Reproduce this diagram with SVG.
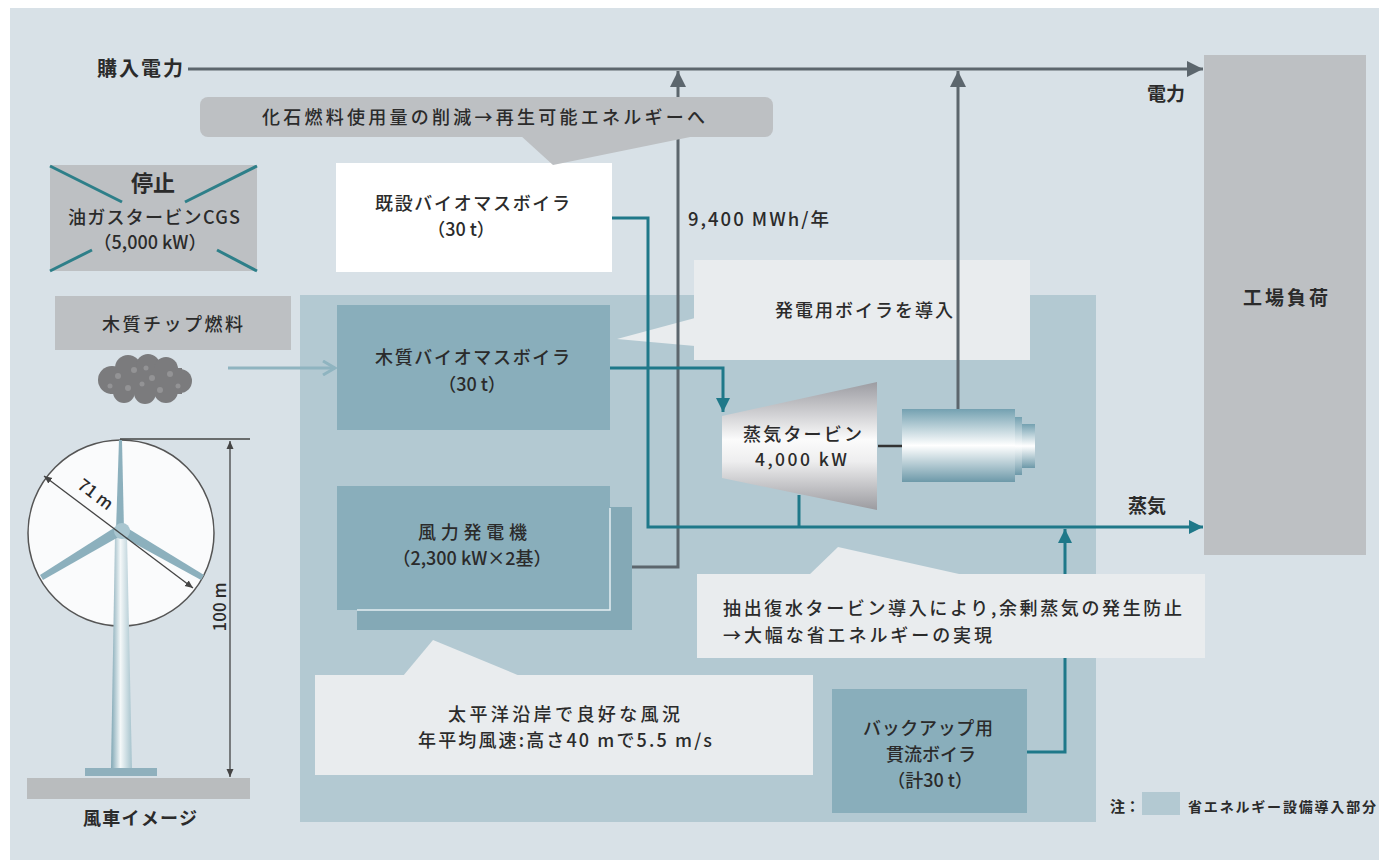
<svg xmlns="http://www.w3.org/2000/svg" width="1379" height="860" viewBox="0 0 1379 860">
  <defs>
    <style>
      .t { font-family: "Noto Sans CJK JP", "Noto Sans", sans-serif; font-size: 18px; font-weight: 500; fill: #2b2b2b; }
      .b { font-weight: bold; }
      .s { font-size: 17px; }
      .m { text-anchor: middle; }
      .teal { fill: none; stroke: #1f7889; stroke-width: 3; }
      .gline { fill: none; stroke: #5c666d; stroke-width: 3; }
      .dark { fill: #89aebb; }
      .gray { fill: #bdc0c3; }
      .light { fill: #e9ecee; }
      .xline { stroke: #2e7f89; stroke-width: 3; }
      .blade { fill: #8cb0bd; }
      .dim { stroke: #444; stroke-width: 1.3; fill: none; }
    </style>
    <marker id="arrTeal" markerUnits="userSpaceOnUse" markerWidth="14" markerHeight="14" refX="14" refY="7" orient="auto">
      <path d="M0,0 L14,7 L0,14 z" fill="#1f7889"/>
    </marker>
    <marker id="arrGray" markerUnits="userSpaceOnUse" markerWidth="16" markerHeight="16" refX="16" refY="8" orient="auto">
      <path d="M0,0 L16,8 L0,16 z" fill="#5c666d"/>
    </marker>
    <marker id="arrOpen" markerUnits="userSpaceOnUse" markerWidth="16" markerHeight="16" refX="14" refY="8" orient="auto">
      <path d="M2,1 L14,8 L2,15" fill="none" stroke="#8fb4c0" stroke-width="3"/>
    </marker>
    <marker id="arrDim" markerUnits="userSpaceOnUse" markerWidth="8" markerHeight="8" refX="8" refY="4" orient="auto-start-reverse">
      <path d="M0,0.5 L8,4 L0,7.5 z" fill="#444"/>
    </marker>
    <linearGradient id="coneGrad" x1="0" y1="0" x2="0" y2="1">
      <stop offset="0" stop-color="#9c9ca2"/>
      <stop offset="0.45" stop-color="#fbfbfb"/>
      <stop offset="0.62" stop-color="#eeeeef"/>
      <stop offset="1" stop-color="#9b9ba0"/>
    </linearGradient>
    <linearGradient id="genGrad" x1="0" y1="0" x2="0" y2="1">
      <stop offset="0" stop-color="#74a1b1"/>
      <stop offset="0.5" stop-color="#ffffff"/>
      <stop offset="1" stop-color="#6d99a9"/>
    </linearGradient>
    <linearGradient id="towerGrad" x1="0" y1="0" x2="1" y2="0">
      <stop offset="0" stop-color="#7fa6b4"/>
      <stop offset="0.45" stop-color="#f4f8f9"/>
      <stop offset="1" stop-color="#a6c3cd"/>
    </linearGradient>
  </defs>

  <!-- page background -->
  <rect x="0" y="0" width="1379" height="860" fill="#ffffff"/>
  <rect x="10" y="8" width="1369" height="852" fill="#d8e1e7"/>

  <!-- energy-saving equipment area -->
  <rect id="saving-area" x="300" y="295" width="796" height="527" fill="#b3c9d2"/>

  <!-- factory load -->
  <g id="factory">
    <rect x="1204" y="55" width="162" height="500" class="gray"/>
    <text x="1243" y="305" class="t b" style="font-size:19px" textLength="85">工場負荷</text>
  </g>

  <!-- stopped oil/gas turbine CGS -->
  <g id="cgs-stopped">
    <rect x="50" y="165" width="207" height="106" class="gray"/>
    <line x1="50" y1="166" x2="122" y2="202" class="xline"/>
    <line x1="185" y1="202" x2="257" y2="166" class="xline"/>
    <line x1="50" y1="271" x2="92" y2="250" class="xline"/>
    <line x1="217" y1="250" x2="257" y2="271" class="xline"/>
    <text x="153" y="191" class="t b m" style="font-size:22px">停止</text>
    <text x="68" y="224" class="t" textLength="172">油ガスタービンCGS</text>
    <text x="150" y="249" class="t m">（5,000 kW）</text>
  </g>

  <!-- existing biomass boiler -->
  <g id="existing-boiler">
    <rect x="336" y="163" width="276" height="109" fill="#ffffff"/>
    <text x="375" y="210" class="t" textLength="195">既設バイオマスボイラ</text>
    <text x="461" y="236" class="t m">（30 t）</text>
  </g>

  <!-- wood chip fuel -->
  <g id="wood-chip">
    <rect x="55" y="296" width="236" height="54" class="gray"/>
    <text x="102" y="331" class="t" textLength="141">木質チップ燃料</text>
    <g fill="#7b7b7d">
      <circle cx="112" cy="380" r="14"/>
      <circle cx="128" cy="368" r="13"/>
      <circle cx="148" cy="366" r="12"/>
      <circle cx="166" cy="369" r="12"/>
      <circle cx="180" cy="381" r="12"/>
      <circle cx="166" cy="391" r="12"/>
      <circle cx="145" cy="393" r="11"/>
      <circle cx="124" cy="392" r="11"/>
      <rect x="110" y="368" width="72" height="26"/>
    </g>
    <g fill="#939395">
      <circle cx="118" cy="376" r="3"/><circle cx="134" cy="370" r="3"/>
      <circle cx="152" cy="378" r="3"/><circle cx="170" cy="374" r="3"/>
      <circle cx="128" cy="388" r="3"/><circle cx="160" cy="390" r="3"/>
      <circle cx="142" cy="384" r="2.5"/><circle cx="178" cy="386" r="2.5"/>
      <circle cx="110" cy="386" r="2.5"/><circle cx="146" cy="368" r="2.5"/>
    </g>
  </g>

  <!-- woody biomass boiler -->
  <g id="wood-boiler">
    <rect x="337" y="305" width="273" height="125" class="dark"/>
    <text x="375" y="364" class="t" textLength="195">木質バイオマスボイラ</text>
    <text x="472" y="391" class="t m">（30 t）</text>
  </g>

  <!-- wind generators (2 units) -->
  <g id="wind-generator">
    <rect x="357" y="507" width="275" height="123" fill="#84a9b6"/>
    <rect x="337" y="486" width="273" height="124" class="dark"/>
    <path d="M610,508 V610 H357" fill="none" stroke="#e4eef2" stroke-width="1.5"/>
    <text x="418" y="539" class="t" textLength="109">風力発電機</text>
    <text x="472" y="565" class="t m">（2,300 kW×2基）</text>
  </g>

  <!-- backup once-through boiler -->
  <g id="backup-boiler">
    <rect x="832" y="689" width="195" height="124" class="dark"/>
    <text x="863" y="735" class="t" textLength="130">バックアップ用</text>
    <text x="931" y="761" class="t m">貫流ボイラ</text>
    <text x="930" y="787" class="t m">（計30 t）</text>
  </g>

  <!-- callout: generation boiler introduced -->
  <g id="note-boiler">
    <polygon points="695,318 617,339 695,346" class="light"/>
    <rect x="694" y="260" width="336" height="100" class="light"/>
    <text x="775" y="317" class="t" textLength="178">発電用ボイラを導入</text>
  </g>

  <!-- connectors -->
  <g id="connectors">
    <!-- purchased power bus -->
    <line x1="188" y1="69" x2="1203" y2="69" class="gline" marker-end="url(#arrGray)"/>
    <!-- wind power to bus -->
    <path d="M632,567 H678 V71" class="gline" stroke-width="2.5" marker-end="url(#arrGray)"/>
    <!-- generator power to bus -->
    <path d="M958,409 V71" class="gline" stroke-width="2.5" marker-end="url(#arrGray)"/>
    <!-- wood chips into boiler -->
    <line x1="228" y1="368" x2="335" y2="368" stroke="#8fb4c0" stroke-width="3" marker-end="url(#arrOpen)"/>
    <!-- existing boiler steam to factory -->
    <path d="M612,218 H648 V527 H1203" class="teal" marker-end="url(#arrTeal)"/>
    <!-- wood boiler steam to turbine -->
    <path d="M610,368 H723 V412" class="teal" marker-end="url(#arrTeal)"/>
    <!-- turbine extraction -->
    <path d="M799,495 V527" class="teal" stroke-width="2.5"/>
    <!-- backup boiler steam -->
    <path d="M1027,752 H1065 V529" class="teal" marker-end="url(#arrTeal)"/>
    <!-- turbine to generator shaft -->
    <line x1="878" y1="446" x2="902" y2="446" stroke="#333" stroke-width="2.5"/>
  </g>

  <!-- steam turbine -->
  <g id="steam-turbine">
    <polygon points="722,416 877,382 877,510 722,478" fill="url(#coneGrad)"/>
    <text x="743" y="441" class="t" textLength="119">蒸気タービン</text>
    <text x="755" y="466" class="t" style="font-size:17.5px" textLength="92">4,000 kW</text>
  </g>

  <!-- generator -->
  <g id="generator">
    <rect x="1020" y="424" width="15" height="44" fill="url(#genGrad)"/>
    <rect x="1014" y="417" width="8" height="58" fill="url(#genGrad)"/>
    <rect x="902" y="409" width="113" height="73" fill="url(#genGrad)"/>
  </g>

  <!-- flow labels -->
  <g id="labels">
    <text x="97" y="76" class="t b" style="font-size:20px" textLength="86">購入電力</text>
    <text x="1147" y="101" class="t b" style="font-size:19px">電力</text>
    <text x="1128" y="513" class="t b" style="font-size:19px">蒸気</text>
    <text x="688" y="226" class="t" style="font-size:18.5px" textLength="141">9,400 MWh/年</text>
  </g>

  <!-- callout: fossil fuel reduction -->
  <g id="note-fossil">
    <polygon points="520,135 553,165 700,135" fill="#bdc0c3"/>
    <rect x="200" y="97" width="573" height="40" rx="8" fill="#bdc0c3"/>
    <text x="262" y="124" class="t" textLength="443">化石燃料使用量の削減→再生可能エネルギーへ</text>
  </g>

  <!-- callout: extraction condensing turbine -->
  <g id="note-turbine">
    <polygon points="808,576 838,547 968,576" class="light"/>
    <rect x="697" y="574" width="508" height="84" class="light"/>
    <text x="723" y="615" class="t" textLength="459">抽出復水タービン導入により,余剰蒸気の発生防止</text>
    <text x="723" y="642" class="t" textLength="269">→大幅な省エネルギーの実現</text>
  </g>

  <!-- callout: wind conditions -->
  <g id="note-wind">
    <polygon points="403,676 433,640 520,676" class="light"/>
    <rect x="315" y="675" width="498" height="100" class="light"/>
    <text x="448" y="721" class="t" textLength="232">太平洋沿岸で良好な風況</text>
    <text x="418" y="747" class="t" textLength="294">年平均風速:高さ40 mで5.5 m/s</text>
  </g>

  <!-- wind turbine illustration -->
  <g id="wind-turbine">
    <rect x="27" y="778" width="223" height="21" fill="#b9bcbe"/>
    <circle cx="121" cy="533" r="93" fill="#fafbfc" stroke="#555" stroke-width="1.5"/>
    <polygon points="115,535 127,535 132,770 111,770" fill="url(#towerGrad)"/>
    <rect x="85" y="768" width="72" height="8" fill="#8fb0bd"/>
    <polygon points="116,530 124,530 122,440 119,440" class="blade"/>
    <polygon points="117,526 122,535 43,580 40,575" class="blade"/>
    <polygon points="119,535 124,526 204,575 201,580" class="blade"/>
    <circle cx="122" cy="531" r="8" fill="#a9c6d0"/>
    <line x1="44" y1="476" x2="193" y2="588" class="dim" marker-start="url(#arrDim)" marker-end="url(#arrDim)"/>
    <text transform="translate(92,499) rotate(37)" class="t s m">71 m</text>
    <line x1="120" y1="439" x2="250" y2="439" class="dim"/>
    <line x1="230" y1="441" x2="230" y2="777" class="dim" marker-start="url(#arrDim)" marker-end="url(#arrDim)"/>
    <text transform="translate(226,607) rotate(-90)" class="t s m">100 m</text>
    <text x="83" y="825" class="t b" textLength="114">風車イメージ</text>
  </g>

  <!-- legend -->
  <g id="legend">
    <text x="1110" y="812" class="t b" style="font-size:15px">注：</text>
    <rect x="1142" y="792" width="38" height="23" fill="#b3c9d2"/>
    <text x="1188" y="812" class="t b" style="font-size:14px" textLength="188">省エネルギー設備導入部分</text>
  </g>
</svg>
